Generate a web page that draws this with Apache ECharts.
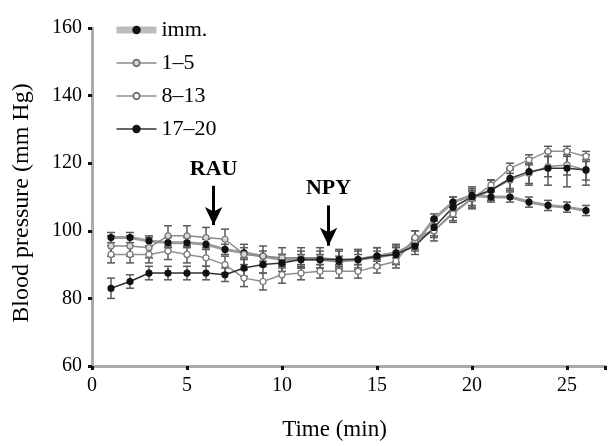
<!DOCTYPE html>
<html><head><meta charset="utf-8">
<script src="https://cdn.jsdelivr.net/npm/echarts@6/dist/echarts.min.js"></script>
<style>html,body{margin:0;padding:0;background:#fff}#c{width:608px;height:446px}</style>
</head><body><div id="c"></div>
<script>
// ---- data ----
const times = [1,2,3,4,5,6,7,8,9,10,11,12,13,14,15,16,17,18,19,20,21,22,23,24,25,26];
const seriesNames = ['imm.', '1–5', '8–13', '17–20'];
const immVals  = [98,98,97,96.5,96.5,96,94.5,93.5,92.5,91.5,91.5,91.5,91,91.5,92.5,93.5,96,103.5,108.5,110.5,110,110,108.5,107.5,107,106];
const immErr   = [1.5,1.5,1.5,1.5,1.5,1.5,1.5,1.5,1.5,1.5,1.5,1.5,1.5,1.5,1.5,1.5,1.5,1.5,1.5,1.5,1.5,1.5,1.5,1.5,1.5,1.5];
const v15Vals  = [95.5,95.5,95,98.5,98.5,98,97.5,93,92.5,92,92,92,91.5,91.5,92,93,97,100,105.5,109.5,112,115,117,119,119.5,118];
const v15Err   = [3,3,3,3,3,3,3,3,3,3,3,3,3,3,3,3,3,3,3,3,3,3,3,3,3,3];
const v813Vals = [93,93,93,94,93,92,90,86,85,87,87.5,88,88,88,89.5,91,98,100,105,109.5,113.5,118.5,121,123.5,123.5,122];
const v813Err  = [2.5,2.5,2.5,2.5,2.5,2.5,2.5,2.5,2.5,2.5,2,2,2,2,2,2,2,2,2,2,1.5,1.5,1.5,1.5,1.5,1.5];
const v1720Vals= [83,85,87.5,87.5,87.5,87.5,87,89,90,90.5,91.5,91.5,91.5,91.5,92.5,93,95.5,101,107,110,112,115.5,117.5,118.5,118.5,118];
const v1720Err = [3,2,2,2,2,2,2,2.5,2.5,2.5,2.5,2.5,2.5,2.5,2.5,2.5,2.5,2.5,3,3,3,3,4,5,5.5,4.5];
const yTicks = [60,80,100,120,140,160];
const xTicks = [0,5,10,15,20,25];
const arrows = [{name:'RAU', x:6.4, top:113.3, tip:101.7, label:118.3},
                {name:'NPY', x:12.45, top:107.5, tip:95.6, label:112.6}];

const styles = {
  'imm.':  {line:'#9a9a9a', lw:3,   fill:'#111', border:'#111', legLine:'#bdbdbd', legW:7},
  '1–5':   {line:'#8a8a8a', lw:1.5, fill:'#d8d8d8', border:'#777', legLine:'#8a8a8a', legW:1.5},
  '8–13':  {line:'#909090', lw:1.5, fill:'#fff', border:'#777', legLine:'#909090', legW:1.5},
  '17–20': {line:'#333',    lw:1.5, fill:'#111', border:'#111', legLine:'#333', legW:1.5}
};
const valsByName = {'imm.':immVals,'1–5':v15Vals,'8–13':v813Vals,'17–20':v1720Vals};
const errByName  = {'imm.':immErr,'1–5':v15Err,'8–13':v813Err,'17–20':v1720Err};

const font = '"Liberation Serif","DejaVu Serif",serif';
const series = [];
// error bars
seriesNames.forEach(n => {
  const vals = valsByName[n], err = errByName[n];
  series.push({
    type:'custom', name:n+'_err', z:1, silent:true,
    data: times.map((t,i)=>[t, vals[i]-err[i], vals[i]+err[i]]),
    renderItem:(params, api)=>{
      const lo = api.coord([api.value(0), api.value(1)]);
      const hi = api.coord([api.value(0), api.value(2)]);
      const w = 4;
      const st = {stroke:'#5a5a5a', lineWidth:1.5};
      return {type:'group', children:[
        {type:'line', shape:{x1:lo[0],y1:lo[1],x2:hi[0],y2:hi[1]}, style:st},
        {type:'line', shape:{x1:lo[0]-w,y1:lo[1],x2:lo[0]+w,y2:lo[1]}, style:st},
        {type:'line', shape:{x1:hi[0]-w,y1:hi[1],x2:hi[0]+w,y2:hi[1]}, style:st}
      ]};
    }
  });
});
seriesNames.forEach(n => {
  const s = styles[n];
  series.push({
    type:'line', name:n, z:3,
    data: times.map((t,i)=>[t, valsByName[n][i]]),
    symbol:'circle', symbolSize:6,
    lineStyle:{color:s.line, width:s.lw},
    itemStyle:{color:s.fill, borderColor:s.border, borderWidth:1.2},
    emphasis:{disabled:true}
  });
});
// annotations
series.push({
  type:'line', name:'annot', data:[], z:5, silent:true,
  markLine:{
    silent:true, symbol:['none','arrow'], symbolSize:[13,18],
    label:{show:false},
    lineStyle:{color:'#000', width:3, type:'solid'},
    data: arrows.map(a=>[{coord:[a.x,a.top]},{coord:[a.x,a.tip]}])
  },
  markPoint:{
    silent:true, symbol:'circle', symbolSize:0,
    label:{show:true, position:'inside', formatter:'{b}', color:'#000',
           fontFamily:font, fontWeight:'bold', fontSize:22},
    data: arrows.map(a=>({name:a.name, coord:[a.x,a.label]}))
  }
});

const chart = echarts.init(document.getElementById('c'), null, {renderer:'canvas'});
chart.setOption({
  animation:false,
  backgroundColor:'#fff',
  grid:{left:92, right:0, top:28, bottom:75},
  legend:{
    data:seriesNames.map(n=>({name:n, lineStyle:{color:styles[n].legLine, width:styles[n].legW}})),
    orient:'vertical', left:108, top:14,
    itemWidth:40, itemHeight:8, itemGap:11,
    textStyle:{fontFamily:font, fontSize:22, color:'#000'},
    selectedMode:false
  },
  xAxis:{
    type:'value', min:0, max:27, interval:5,
    name:'Time (min)', nameLocation:'middle', nameGap:52,
    nameTextStyle:{fontFamily:font, fontSize:23, color:'#000', padding:[0,28,0,0]},
    axisLine:{show:true, onZero:false, lineStyle:{color:'#aaa', width:3}},
    axisTick:{show:true, length:4, lineStyle:{color:'#111', width:3}},
    axisLabel:{fontFamily:font, fontSize:20, color:'#000', margin:10,
      formatter:v=> xTicks.indexOf(v)>=0 ? String(v) : ''},
    splitLine:{show:false}
  },
  yAxis:{
    type:'value', min:60, max:160, interval:20,
    axisLine:{show:true, lineStyle:{color:'#aaa', width:3}},
    axisTick:{show:true, length:4, lineStyle:{color:'#111', width:3}},
    axisLabel:{fontFamily:font, fontSize:20, color:'#000', margin:10,
      formatter:v=> yTicks.indexOf(v)>=0 ? String(v) : ''},
    splitLine:{show:false}
  },
  graphic:[{type:'text', x:22, y:203, rotation:Math.PI/2,
    style:{text:'Blood pressure (mm Hg)', fontFamily:font, fontSize:24, fill:'#000',
      textAlign:'center', textVerticalAlign:'middle'}}],
  series:series
});
</script></body></html>
